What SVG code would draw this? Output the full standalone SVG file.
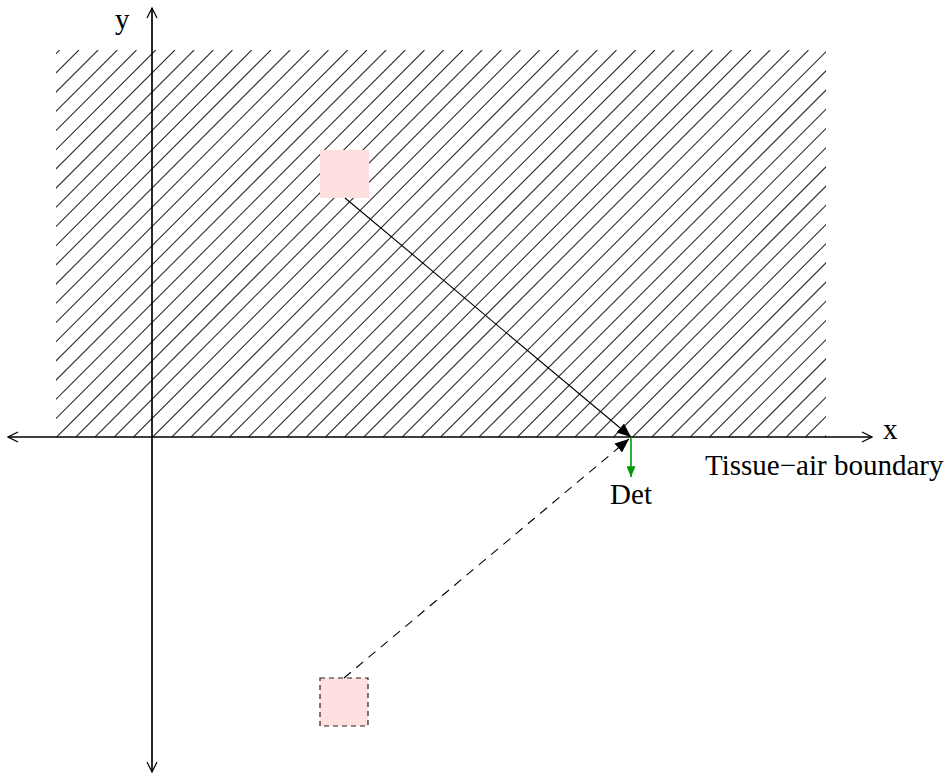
<svg xmlns="http://www.w3.org/2000/svg" width="946" height="774" viewBox="0 0 946 774">
<style>
.lbl{font-family:"Liberation Serif","Times New Roman",serif;font-size:29px;fill:#000}
.axis{stroke:#000;stroke-width:1.2;fill:none}
</style>
<defs>
<clipPath id="tissueClip"><rect x="56" y="50" width="770" height="387"/></clipPath>
<marker id="open" viewBox="0 0 12 12" refX="11" refY="6" markerWidth="12" markerHeight="12" markerUnits="userSpaceOnUse" orient="auto">
<path d="M1,1 L11,6 L1,11" fill="none" stroke="#000" stroke-width="1.2"/>
</marker>
<marker id="fillk" viewBox="0 0 12 10" refX="12" refY="5" markerWidth="14" markerHeight="12" markerUnits="userSpaceOnUse" orient="auto">
<path d="M0,0 L12,5 L0,10 Z" fill="#000"/>
</marker>
<marker id="fillg" viewBox="0 0 12 10" refX="12" refY="5" markerWidth="11" markerHeight="9" markerUnits="userSpaceOnUse" orient="auto">
<path d="M0,0 L12,5 L0,10 Z" fill="#009900"/>
</marker>
</defs>
<g id="tissue">
<path clip-path="url(#tissueClip)" stroke="#333" stroke-width="1.1" fill="none" d="M-327.3,437 l387,-387 M-308.1,437 l387,-387 M-288.9,437 l387,-387 M-269.7,437 l387,-387 M-250.5,437 l387,-387 M-231.3,437 l387,-387 M-212.1,437 l387,-387 M-192.9,437 l387,-387 M-173.7,437 l387,-387 M-154.5,437 l387,-387 M-135.3,437 l387,-387 M-116.1,437 l387,-387 M-96.9,437 l387,-387 M-77.7,437 l387,-387 M-58.5,437 l387,-387 M-39.3,437 l387,-387 M-20.1,437 l387,-387 M-0.9,437 l387,-387 M18.3,437 l387,-387 M37.5,437 l387,-387 M56.7,437 l387,-387 M75.9,437 l387,-387 M95.1,437 l387,-387 M114.3,437 l387,-387 M133.5,437 l387,-387 M152.7,437 l387,-387 M171.9,437 l387,-387 M191.1,437 l387,-387 M210.3,437 l387,-387 M229.5,437 l387,-387 M248.7,437 l387,-387 M267.9,437 l387,-387 M287.1,437 l387,-387 M306.3,437 l387,-387 M325.5,437 l387,-387 M344.7,437 l387,-387 M363.9,437 l387,-387 M383.1,437 l387,-387 M402.3,437 l387,-387 M421.5,437 l387,-387 M440.7,437 l387,-387 M459.9,437 l387,-387 M479.1,437 l387,-387 M498.3,437 l387,-387 M517.5,437 l387,-387 M536.7,437 l387,-387 M555.9,437 l387,-387 M575.1,437 l387,-387 M594.3,437 l387,-387 M613.5,437 l387,-387 M632.7,437 l387,-387 M651.9,437 l387,-387 M671.1,437 l387,-387 M690.3,437 l387,-387 M709.5,437 l387,-387 M728.7,437 l387,-387 M747.9,437 l387,-387 M767.1,437 l387,-387 M786.3,437 l387,-387 M805.5,437 l387,-387 M824.7,437 l387,-387"/>
</g>
<g id="source">
<rect x="320" y="150" width="49" height="48" fill="#ffdfdf"/>
</g>
<g id="image-source">
<rect x="320" y="678" width="48" height="48" fill="#ffdfdf" stroke="#222" stroke-width="1.2" stroke-dasharray="5,4"/>
</g>
<g id="axes">
<line class="axis" x1="872" y1="437" x2="8" y2="437" marker-end="url(#open)"/>
<line class="axis" x1="8" y1="437" x2="872" y2="437" marker-end="url(#open)"/>
<line class="axis" x1="152" y1="772" x2="152" y2="8" marker-end="url(#open)"/>
<line class="axis" x1="152" y1="8" x2="152" y2="772" marker-end="url(#open)"/>
</g>
<g id="connectors">
<line x1="345" y1="198" x2="631" y2="437" stroke="#000" stroke-width="1.1" marker-end="url(#fillk)"/>
<line x1="344" y1="678" x2="629" y2="439" stroke="#000" stroke-width="1.1" stroke-dasharray="9,7" marker-end="url(#fillk)"/>
<line x1="631" y1="437" x2="631" y2="477" stroke="#009900" stroke-width="1.6" marker-end="url(#fillg)"/>
</g>
<g id="labels">
<text class="lbl" x="115" y="29">y</text>
<text class="lbl" x="883" y="439">x</text>
<text class="lbl" x="705" y="475">Tissue−air boundary</text>
<text class="lbl" x="631" y="504" text-anchor="middle">Det</text>
</g>
</svg>
